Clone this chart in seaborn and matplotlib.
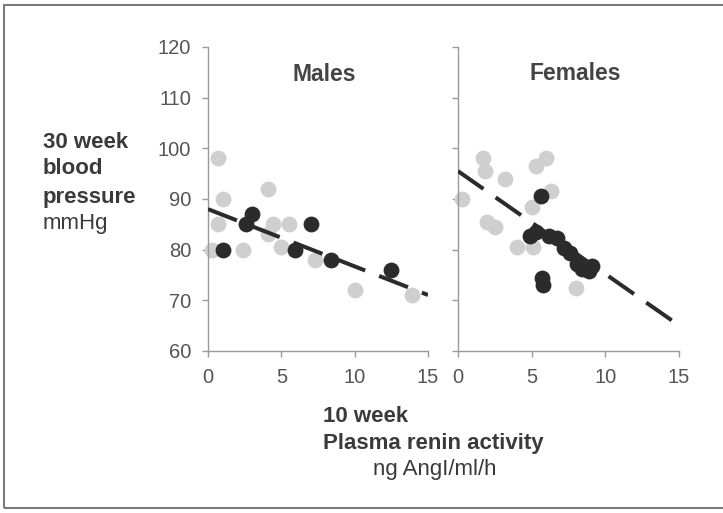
import matplotlib
matplotlib.use("Agg")
import matplotlib.pyplot as plt
import matplotlib.patches as patches
import numpy as np
import pandas as pd
import seaborn as sns

# males, light grey points
m_light_x = [0.7, 1.0, 4.1, 0.7, 0.3, 2.4, 4.4, 5.5, 4.1, 5.0, 7.3, 10.0, 13.9]
m_light_y = [98, 90, 92, 85, 80, 80, 85, 85, 83, 80.5, 78, 72, 71]
# males, dark points
m_dark_x = [3.0, 2.6, 1.0, 5.9, 7.0, 8.4, 12.5]
m_dark_y = [87, 85, 80, 80, 85, 78, 76]
# females, light grey points
f_light_x = [1.7, 1.8, 3.2, 0.3, 6.0, 5.3, 6.3, 5.0, 2.0, 2.5, 4.0, 5.1, 8.0]
f_light_y = [98, 95.5, 94, 90, 98, 96.5, 91.5, 88.5, 85.5, 84.4, 80.5, 80.5, 72.5]
# females, dark points
f_dark_x = [5.6, 5.3, 4.9, 6.2, 6.7, 7.2, 7.6, 8.1, 8.4, 8.9, 9.1, 5.7, 5.8]
f_dark_y = [90.5, 83.4, 82.6, 82.6, 82.4, 80.4, 79.4, 77.1, 76.1, 75.7, 76.7, 74.5, 73.1]

# fitted lines: intercept, slope
m_fit = (88.0, -1.13)
f_fit = (95.5, -2.03)

light_col = "#cfcfcf"
dark_col = "#2b2b2b"

sns.set_style("ticks")
plt.rcParams['font.family'] = ['Liberation Sans', 'DejaVu Sans']

fig = plt.figure(figsize=(7.23, 5.13), dpi=100)

# frame around the figure
fig.patches.append(patches.Rectangle((4 / 723, 1 - 508 / 513), 1.2, 503 / 513,
                                     transform=fig.transFigure, fill=False,
                                     edgecolor="#7a7a7a", linewidth=1.5))

ax_m = fig.add_axes([208 / 723, 1 - 351 / 513, 220 / 723, 304 / 513])
ax_f = fig.add_axes([458 / 723, 1 - 351 / 513, 221 / 723, 304 / 513])


def make_df(lx, ly, dx, dy):
    return pd.DataFrame({
        "pra": lx + dx,
        "bp": ly + dy,
        "grp": ["light"] * len(lx) + ["dark"] * len(dx),
    })


panels = [
    (ax_m, make_df(m_light_x, m_light_y, m_dark_x, m_dark_y), m_fit, "Males", 0.908),
    (ax_f, make_df(f_light_x, f_light_y, f_dark_x, f_dark_y), f_fit, "Females", 0.914),
]

for ax, df, fit, title, ty in panels:
    sns.scatterplot(data=df[df.grp == "light"], x="pra", y="bp", ax=ax,
                    color=light_col, s=130, linewidth=0, zorder=2, legend=False)
    xs = np.array([0, 15])
    ln, = ax.plot(xs, fit[0] + fit[1] * xs, color=dark_col, linewidth=2.9,
                  zorder=3, solid_capstyle="butt")
    ln.set_dashes((7.7, 3.7))
    sns.scatterplot(data=df[df.grp == "dark"], x="pra", y="bp", ax=ax,
                    color=dark_col, s=130, linewidth=0, zorder=4, legend=False)
    ax.set_xlim(0, 15)
    ax.set_ylim(60, 120)
    ax.set_xticks([0, 5, 10, 15])
    ax.set_yticks(range(60, 121, 10))
    ax.set_xlabel("")
    ax.set_ylabel("")
    for s in ["top", "right"]:
        ax.spines[s].set_visible(False)
    for s in ["left", "bottom"]:
        ax.spines[s].set_color("#999999")
        ax.spines[s].set_linewidth(1.0)
    ax.tick_params(axis="both", colors="#999999", labelcolor="#555555",
                   labelsize=14.5, length=4, width=1)
    ax.tick_params(axis="x", pad=8)
    ax.tick_params(axis="y", pad=8)
    ax.patch.set_alpha(0)
    for c in ax.collections:
        c.set_clip_on(False)
    ax.text(0.53, ty, title, transform=ax.transAxes,
            ha="center", va="center", fontsize=16.5, fontweight="bold", color="#444444")

ax_f.tick_params(axis="y", labelleft=False)

# axis titles
txt_col = "#3a3a3a"
fig.text(43 / 723, 1 - 142 / 513, "30 week", fontsize=16, fontweight="bold",
         color=txt_col, va="center")
fig.text(43 / 723, 1 - 169 / 513, "blood", fontsize=16, fontweight="bold",
         color=txt_col, va="center")
fig.text(43 / 723, 1 - 197 / 513, "pressure", fontsize=16, fontweight="bold",
         color=txt_col, va="center")
fig.text(43 / 723, 1 - 224 / 513, "mmHg", fontsize=16, color=txt_col, va="center")

fig.text(323 / 723, 1 - 416 / 513, "10 week", fontsize=16, fontweight="bold",
         color=txt_col, va="center")
fig.text(323 / 723, 1 - 443 / 513, "Plasma renin activity", fontsize=16,
         fontweight="bold", color=txt_col, va="center")
fig.text(435 / 723, 1 - 469 / 513, "ng AngI/ml/h", fontsize=16, color=txt_col,
         va="center", ha="center")

fig.savefig("out.png", dpi=100, facecolor="white")
